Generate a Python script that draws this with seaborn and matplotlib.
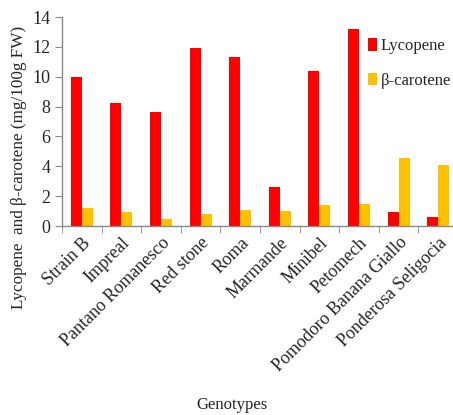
import numpy as np
import pandas as pd
import seaborn as sns
import matplotlib.pyplot as plt

genotypes = ['Strain B', 'Impreal', 'Pantano Romanesco', 'Red stone', 'Roma',
             'Marmande', 'Minibel', 'Petomech', 'Pomodoro Banana Giallo',
             'Ponderosa Seligocia']
lycopene = [10.0, 8.25, 7.65, 11.92, 11.3, 2.6, 10.4, 13.2, 0.92, 0.6]
beta_carotene = [1.18, 0.92, 0.47, 0.78, 1.07, 1.0, 1.43, 1.5, 4.55, 4.08]
series = ['Lycopene', 'β-carotene']
colors = ['#FF0000', '#FFC000']

df = pd.DataFrame({'genotype': genotypes * 2,
                   'value': lycopene + beta_carotene,
                   'pigment': [series[0]] * len(genotypes) + [series[1]] * len(genotypes)})

sns.set_style('white')
plt.rcParams['font.family'] = ['Liberation Serif', 'DejaVu Serif']

fig = plt.figure(figsize=(4.53, 4.15), dpi=100)
ax = fig.add_axes([62 / 453, (415 - 226) / 415, 396 / 453, 209 / 415])

sns.barplot(data=df, x='genotype', y='value', hue='pigment', palette=colors,
            width=0.56, edgecolor='none', saturation=1, ax=ax)

ax.set_xlim(-0.5, len(genotypes) - 0.5)
ax.set_ylim(0, 14)
ax.set_yticks(range(0, 15, 2))
ax.tick_params(axis='y', labelsize=13, length=5, color='#888888', direction='out', left=True)
ax.set_xticks(range(len(genotypes)))
ax.set_xticklabels(genotypes, rotation=45, ha='right', rotation_mode='anchor', fontsize=13)
ax.tick_params(axis='x', length=0, pad=6)
ax.set_xticks(np.arange(-0.5, len(genotypes), 1), minor=True)
ax.tick_params(axis='x', which='minor', length=5, color='#888888', direction='out', bottom=True)

sns.despine(ax=ax)
for s in ['left', 'bottom']:
    ax.spines[s].set_color('#888888')
    ax.spines[s].set_linewidth(1.0)

ax.set_ylabel('Lycopene  and β-carotene (mg/100g FW)', fontsize=12.3)
ax.yaxis.set_label_coords(-0.088, 0.28)
ax.set_xlabel('Genotypes', fontsize=12)
ax.xaxis.set_label_coords(0.43, -0.82)

ax.legend(title=None, loc='upper right', bbox_to_anchor=(1.0, 0.93), frameon=False,
          fontsize=12, handlelength=0.55, handleheight=0.75, handletextpad=0.25,
          labelspacing=1.1, borderaxespad=0)

fig.savefig('out.png', dpi=100)
